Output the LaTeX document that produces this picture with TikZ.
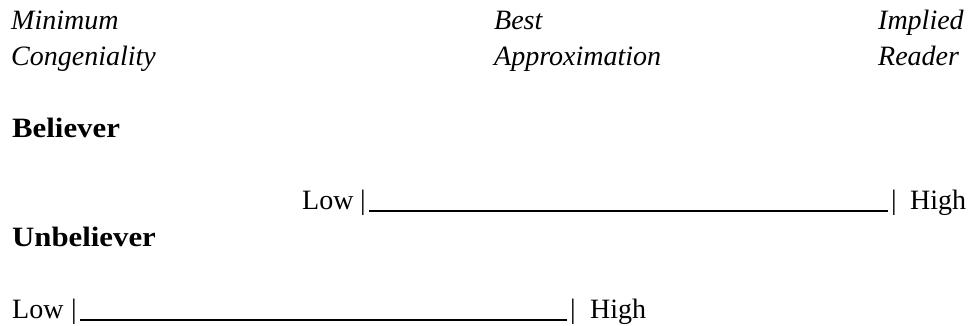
\documentclass[tikz,border=0pt]{standalone}
\usepackage{fontspec}
\setmainfont{Liberation Serif}
% slightly widened bold face for the group labels
\newfontfamily\widebold{Liberation Serif}[UprightFont=* Bold, FakeStretch=1.1]
\begin{document}
\begin{tikzpicture}[x=1pt,y=1pt,
  txt/.style={inner sep=0pt, anchor=base west, font=\fontsize{28}{32}\selectfont},
  head/.style={txt, font=\fontsize{28}{32}\selectfont\itshape},
  group/.style={txt, font=\fontsize{28}{32}\selectfont\widebold},
  barmark/.style={inner sep=0pt, anchor=base, font=\fontsize{28}{32}\selectfont},
  scaleline/.style={line width=1.7pt}]
\useasboundingbox (0,0) rectangle (972,-325);

% column headings
\node[head] (minA) at (11,-29) {Minimum};
\node[head] (minB) at (11,-65) {Congeniality};
\node[head] (bestA) at (494,-29) {Best};
\node[head] (bestB) at (494,-65) {Approximation};
\node[head] (implA) at (878,-29) {Implied};
\node[head] (implB) at (878,-65) {Reader};

% believer scale
\node[group] (bel) at (12,-137) {Believer};
\node[txt] (low1) at (302,-209) {Low};
\node[barmark] (bar1a) at (363,-209) {|};
\node[barmark] (bar1b) at (894,-209) {|};
\node[txt] (high1) at (910,-209) {High};
\draw[scaleline] ([xshift=3pt,yshift=-2pt]bar1a.base east) -- ([xshift=-3pt,yshift=-2pt]bar1b.base west);

% unbeliever scale
\node[group] (unb) at (12,-246) {Unbeliever};
\node[txt] (low2) at (12,-318) {Low};
\node[barmark] (bar2a) at (74,-318) {|};
\node[barmark] (bar2b) at (573,-318) {|};
\node[txt] (high2) at (590,-318) {High};
\draw[scaleline] ([xshift=3pt,yshift=-2pt]bar2a.base east) -- ([xshift=-3pt,yshift=-2pt]bar2b.base west);
\end{tikzpicture}
\end{document}
